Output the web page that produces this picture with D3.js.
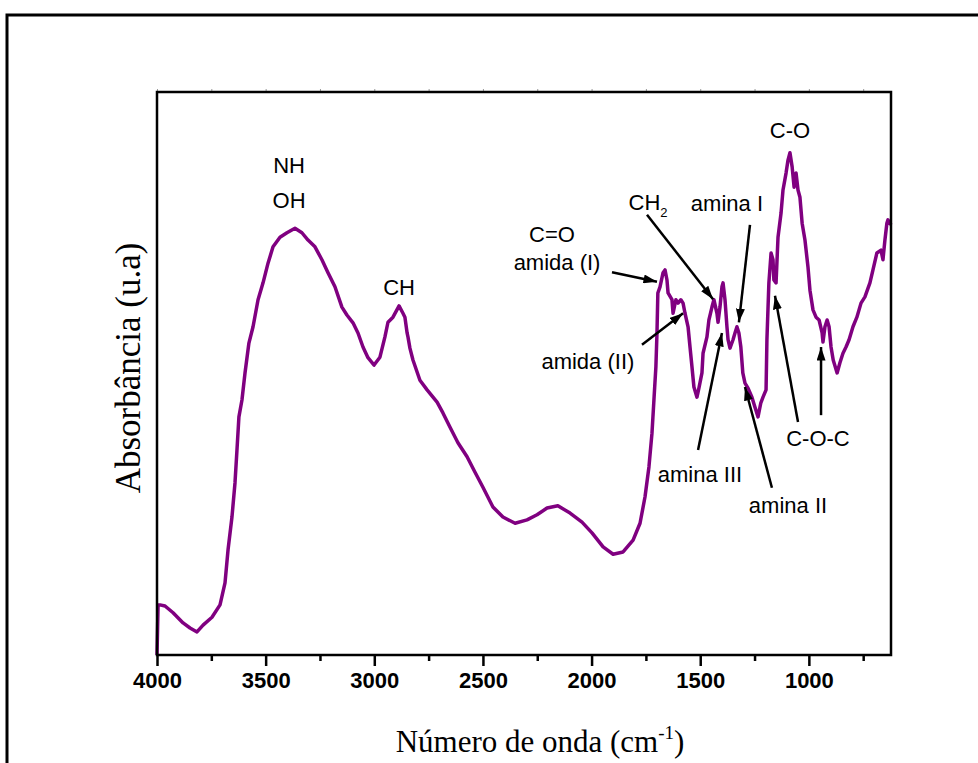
<!DOCTYPE html>
<html>
<head>
<meta charset="utf-8">
<script src="https://cdn.jsdelivr.net/npm/d3@7"></script>
<style>
  html, body { margin: 0; padding: 0; background: #fff; }
  svg { display: block; }
</style>
</head>
<body>
<svg id="chart" width="978" height="763"></svg>
<script>
// Espectro FTIR (número de onda en cm-1, absorbancia en u.a.)
const wavenumber = [
  4000, 3995, 3986, 3963, 3926, 3880, 3848, 3816, 3788, 3747, 3710, 3687, 3673, 3655, 3641,
  3632, 3623, 3609, 3595, 3577, 3558, 3535, 3512, 3489, 3466, 3434, 3402, 3365, 3333, 3305,
  3273, 3241, 3213, 3181, 3149, 3126, 3098, 3075, 3052, 3029, 3001, 2974, 2951, 2937, 2914,
  2886, 2868, 2859, 2849, 2845, 2836, 2822, 2790, 2757, 2711, 2684, 2652, 2615, 2573, 2537,
  2500, 2454, 2408, 2352, 2297, 2251, 2205, 2155, 2099, 2044, 1998, 1947, 1901, 1855, 1809,
  1777, 1754, 1736, 1722, 1713, 1704, 1699, 1695, 1685, 1671, 1662, 1653, 1648, 1630, 1625,
  1612, 1602, 1589, 1579, 1570, 1556, 1547, 1538, 1529, 1515, 1506, 1492, 1487, 1469, 1460,
  1446, 1437, 1423, 1418, 1409, 1400, 1395, 1386, 1377, 1372, 1363, 1349, 1340, 1331, 1322,
  1313, 1304, 1294, 1280, 1262, 1248, 1234, 1221, 1211, 1197, 1193, 1184, 1174, 1165, 1161,
  1151, 1142, 1128, 1119, 1105, 1096, 1087, 1077, 1068, 1059, 1050, 1041, 1031, 1018, 1004,
  995, 981, 967, 953, 939, 935, 926, 916, 907, 898, 888, 870, 857, 843, 829,
  815, 797, 779, 760, 742, 719, 705, 687, 668, 659, 650, 641, 636, 622
];
const absorbance = [
  0, 8.9, 8.9, 8.7, 7.5, 5.7, 4.8, 4.1, 5.3, 6.7, 8.9, 12.8, 18.7, 24.5, 30.6,
  36.4, 42.3, 45.3, 50.1, 55.4, 58.3, 63.1, 66.1, 69.6, 72.5, 74.2, 75.0, 75.8, 75.0, 73.7,
  72.5, 70.2, 67.9, 65.4, 61.8, 60.4, 59.0, 57.2, 54.7, 52.8, 51.5, 52.9, 56.5, 59.1, 60.0,
  62.0, 60.7, 60.0, 57.2, 56.5, 54.5, 52.4, 48.8, 47.1, 44.9, 43.0, 40.5, 37.7, 35.2, 32.5,
  29.8, 26.3, 24.5, 23.4, 24.0, 24.9, 26.1, 26.5, 25.2, 23.6, 21.7, 19.2, 17.9, 18.3, 20.4,
  23.4, 28.1, 33.4, 39.4, 45.3, 51.2, 57.2, 64.3, 65.4, 67.9, 68.4, 66.6, 64.3, 63.1, 60.7,
  63.1, 62.5, 63.1, 62.5, 60.7, 58.3, 54.7, 51.2, 47.6, 45.8, 47.4, 50.1, 53.6, 56.5, 59.5,
  61.8, 63.1, 60.7, 59.1, 61.8, 65.4, 66.1, 63.1, 58.3, 56.0, 54.5, 56.0, 57.2, 58.3, 57.2,
  54.7, 50.1, 48.3, 47.4, 45.8, 44.0, 42.3, 44.8, 45.8, 47.1, 56.0, 66.1, 71.4, 70.2, 66.6,
  66.1, 74.2, 78.5, 82.6, 85.6, 87.9, 89.2, 86.7, 83.1, 85.6, 82.6, 81.3, 76.7, 73.7, 68.9,
  64.8, 61.3, 60.0, 59.5, 57.2, 55.6, 58.3, 59.5, 58.3, 54.7, 52.4, 50.1, 51.9, 53.6, 54.7,
  56.0, 58.3, 60.0, 62.5, 63.6, 66.1, 68.4, 71.4, 71.9, 70.2, 73.7, 76.7, 77.3, 76.4
];

// Marcas del eje X
const majorTicks = [4000, 3500, 3000, 2500, 2000, 1500, 1000];
const minorTicks = [3750, 3250, 2750, 2250, 1750, 1250, 750];

// Etiquetas de bandas (posición en coordenadas de datos)
const labelText = ["NH", "OH", "CH", "C=O", "amida (I)", "amina I", "C-O", "amida (II)", "amina III", "amina II", "C-O-C"];
const labelWn   = [3392, 3392, 2886, 2182, 2159, 1377, 1087, 2017, 1501, 1096, 958];
const labelAbs  = [85.6, 79.4, 63.9, 73.4, 68.4, 78.9, 91.8, 50.8, 30.7, 25.2, 37.1];

// Flechas: origen y punta
const arrowFromWn  = [1906, 1768, 1745, 1271, 1510, 1170, 1050, 944];
const arrowFromAbs = [68.0, 55.1, 78.2, 76.4, 36.4, 29.7, 41.4, 42.6];
const arrowToWn    = [1699, 1579, 1441, 1322, 1400, 1294, 1156, 944];
const arrowToAbs   = [66.3, 60.7, 63.2, 59.1, 57.2, 47.6, 63.8, 54.7];

const svg = d3.select('#chart');
const margin = { left: 157, right: 891, top: 92, bottom: 655 };

// Marco exterior
svg.append('rect')
  .attr('x', 7).attr('y', 15)
  .attr('width', 1000).attr('height', 800)
  .attr('fill', 'none')
  .attr('stroke', '#000')
  .attr('stroke-width', 3);

// Escalas
const x = d3.scaleLinear().domain([4000, 622]).range([margin.left, margin.right]);
const y = d3.scaleLinear().domain([0, 100]).range([margin.bottom, margin.top]);

// Curva
const data = wavenumber.map((w, i) => ({ w: w, a: absorbance[i] }));
const line = d3.line().x(d => x(d.w)).y(d => y(d.a));

svg.append('path')
  .datum(data)
  .attr('fill', 'none')
  .attr('stroke', '#800080')
  .attr('stroke-width', 3.5)
  .attr('stroke-linejoin', 'round')
  .attr('d', line);

// Eje inferior: marcas menores y mayores
const axisMinor = d3.axisBottom(x).tickValues(minorTicks).tickSize(6).tickFormat('');
const axisMajor = d3.axisBottom(x).tickValues(majorTicks).tickSize(11).tickPadding(6)
  .tickFormat(d3.format('d'));

const gMinor = svg.append('g').attr('transform', `translate(0,${margin.bottom})`).call(axisMinor);
const gMajor = svg.append('g').attr('transform', `translate(0,${margin.bottom})`).call(axisMajor);
[gMinor, gMajor].forEach(g => {
  g.select('.domain').remove();
  g.selectAll('line').attr('stroke', '#000').attr('stroke-width', 2.5);
});
gMajor.selectAll('text')
  .attr('fill', '#000')
  .style('font-family', 'Arial, "Liberation Sans", sans-serif')
  .style('font-weight', 'bold')
  .style('font-size', '22px');

// Eje superior (marcas cortas hacia fuera)
const gTop = svg.append('g').attr('transform', `translate(0,${margin.top})`)
  .call(d3.axisTop(x).tickValues(majorTicks.concat(minorTicks)).tickSize(3).tickFormat(''));
gTop.select('.domain').remove();
gTop.selectAll('line').attr('stroke', '#999').attr('stroke-width', 1);

// Caja del gráfico
svg.append('rect')
  .attr('x', margin.left).attr('y', margin.top)
  .attr('width', margin.right - margin.left)
  .attr('height', margin.bottom - margin.top)
  .attr('fill', 'none')
  .attr('stroke', '#000')
  .attr('stroke-width', 2.5);

// Títulos de ejes
const xTitle = svg.append('text')
  .attr('x', 540).attr('y', 752)
  .attr('text-anchor', 'middle')
  .style('font-family', '"Times New Roman", "Liberation Serif", serif')
  .style('font-size', '31px')
  .attr('fill', '#000');
xTitle.append('tspan').text('Número de onda (cm');
xTitle.append('tspan').attr('dy', -13).style('font-size', '19px').text('-1');
xTitle.append('tspan').attr('dy', 13).text(')');

svg.append('text')
  .attr('transform', 'translate(140,368) rotate(-90)')
  .attr('text-anchor', 'middle')
  .style('font-family', '"Times New Roman", "Liberation Serif", serif')
  .style('font-size', '35px')
  .attr('fill', '#000')
  .text('Absorbância (u.a)');

// Etiquetas de bandas
const labelFont = 'Arial, "Liberation Sans", sans-serif';
labelText.forEach((t, i) => {
  svg.append('text')
    .attr('x', x(labelWn[i])).attr('y', y(labelAbs[i]))
    .attr('text-anchor', 'middle')
    .style('font-family', labelFont)
    .style('font-size', '22px')
    .attr('fill', '#000')
    .text(t);
});

// CH2 con subíndice
const ch2 = svg.append('text')
  .attr('x', x(1740)).attr('y', y(79.0))
  .attr('text-anchor', 'middle')
  .style('font-family', labelFont)
  .style('font-size', '22px')
  .attr('fill', '#000');
ch2.append('tspan').text('CH');
ch2.append('tspan').attr('dy', 7).style('font-size', '13px').text('2');

// Flechas
svg.append('defs').append('marker')
  .attr('id', 'head')
  .attr('viewBox', '0 0 12 8')
  .attr('refX', 12).attr('refY', 4)
  .attr('markerWidth', 5.4).attr('markerHeight', 3.6)
  .attr('markerUnits', 'strokeWidth')
  .attr('orient', 'auto')
  .append('path')
  .attr('d', 'M0,0 L12,4 L0,8 Z')
  .attr('fill', '#000');

arrowFromWn.forEach((w, i) => {
  svg.append('line')
    .attr('x1', x(w)).attr('y1', y(arrowFromAbs[i]))
    .attr('x2', x(arrowToWn[i])).attr('y2', y(arrowToAbs[i]))
    .attr('stroke', '#000')
    .attr('stroke-width', 2.5)
    .attr('marker-end', 'url(#head)');
});
</script>
</body>
</html>
